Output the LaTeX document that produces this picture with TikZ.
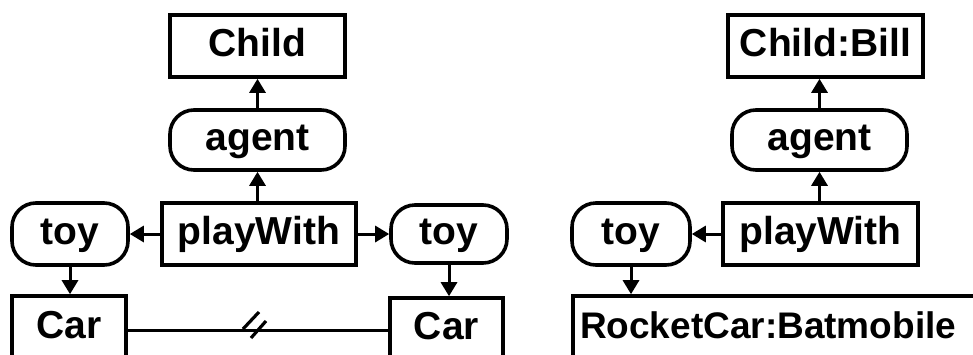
\documentclass[tikz,border=0pt]{standalone}
\usepackage{fontspec}
\setmainfont{Liberation Sans}
\usetikzlibrary{arrows.meta}
\begin{document}
\begin{tikzpicture}[x=1pt,y=-1pt,
  base/.style={draw=black, line width=3.6pt, inner sep=0pt, font=\bfseries\fontsize{39}{44}\selectfont, text height=28pt, text depth=7pt, align=center},
  concept/.style={base, rectangle},
  relation/.style={base, rectangle, rounded corners=24pt},
  arr/.style={line width=3pt, -{Triangle[length=14pt,width=16pt]}},
  link/.style={line width=3pt}
]
\useasboundingbox (0,0) rectangle (973,354);
\clip (0,0) rectangle (973,354);
% left graph
\node[concept, minimum width=175pt, minimum height=62pt] (child) at (257.5,46) {Child};
\node[relation, minimum width=175pt, minimum height=60pt] (agentL) at (257.5,140) {agent};
\node[concept, minimum width=194pt, minimum height=62pt] (playL) at (259,234) {playWith};
\node[relation, minimum width=116pt, minimum height=62pt] (toyL1) at (70,234) {toy};
\node[relation, minimum width=116pt, minimum height=58pt] (toyL2) at (449,234) {toy};
\node[concept, minimum width=114pt, minimum height=64pt] (carL) at (69,328) {Car};
\node[concept, minimum width=113pt, minimum height=62pt] (carR) at (446.5,329) {Car};
\draw[arr] (agentL.north) -- (child.south);
\draw[arr] (playL.north -| agentL.north) -- (agentL.south);
\draw[arr] (playL.west) -- (toyL1.east);
\draw[arr] (playL.east) -- (toyL2.west);
\draw[arr] (toyL1.south) -- (toyL1.south |- carL.north);
\draw[arr] (toyL2.south) -- (toyL2.south |- carR.north);
\coordinate (lineL) at (carL.east |- 0,330);
\coordinate (lineR) at (carR.west |- 0,330);
\draw[link] (lineL) -- (lineR);
\coordinate (h1a) at (243,329);
\coordinate (h1b) at (259,312);
\coordinate (h2a) at (251,338);
\coordinate (h2b) at (266,321);
\draw[line width=3.2pt] (h1a) -- (h1b) (h2a) -- (h2b);
% right graph
\node[concept, minimum width=195pt, minimum height=62pt] (bill) at (825.5,46) {Child:Bill};
\node[relation, minimum width=175pt, minimum height=60pt] (agentR) at (819.5,140) {agent};
\node[concept, minimum width=195pt, minimum height=62pt] (playR) at (820.5,234) {playWith};
\node[relation, minimum width=118pt, minimum height=62pt] (toyR) at (631,234) {toy};
\node[concept, minimum width=420pt, minimum height=64pt] (rocket) at (783,328) {\makebox[420pt][l]{\hspace*{7pt}\fontsize{37}{44}\selectfont RocketCar:Batmobile}};
\draw[arr] (agentR.north) -- (agentR.north |- bill.south);
\draw[arr] (agentR.south |- playR.north) -- (agentR.south);
\draw[arr] (playR.west) -- (toyR.east);
\draw[arr] (toyR.south) -- (toyR.south |- rocket.north);
\end{tikzpicture}
\end{document}
